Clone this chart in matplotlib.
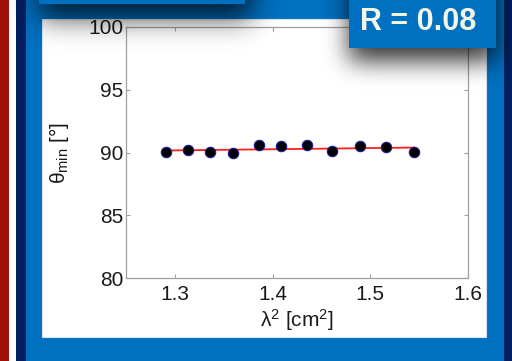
import numpy as np
import matplotlib
matplotlib.use("Agg")
import matplotlib.pyplot as plt
from matplotlib.patches import Rectangle

# ---- data ----
lambda_sq = [1.291, 1.313, 1.336, 1.360, 1.386, 1.409, 1.435, 1.461, 1.489, 1.516, 1.545]
theta_min = [90.05, 90.16, 90.05, 89.98, 90.56, 90.53, 90.59, 90.08, 90.51, 90.43, 90.05]
x_ticks = [1.3, 1.4, 1.5, 1.6]
y_ticks = [80, 85, 90, 95, 100]
r_label = "R = 0.08"

plt.rcParams['font.family'] = ['Liberation Sans', 'DejaVu Sans']
plt.rcParams['mathtext.fontset'] = 'custom'
plt.rcParams['mathtext.rm'] = 'Liberation Sans'
plt.rcParams['mathtext.it'] = 'Liberation Sans'
plt.rcParams['mathtext.default'] = 'regular'

W, H = 512, 361
BLUE = (0/255, 112/255, 192/255)
NAVY = (0/255, 32/255, 96/255)
RED = (160/255, 16/255, 10/255)

fig = plt.figure(figsize=(W/100, H/100), dpi=100)

# background layer
bg = fig.add_axes([0, 0, 1, 1])
bg.set_xlim(0, W); bg.set_ylim(H, 0); bg.axis('off')
bg.add_patch(Rectangle((0, 0), W, H, color=BLUE, lw=0))
bg.add_patch(Rectangle((0, 0), 9, H, color=RED, lw=0))
bg.add_patch(Rectangle((9, 0), 7, H, color='white', lw=0))
bg.add_patch(Rectangle((16, 0), 10, H, color=NAVY, lw=0))
bg.add_patch(Rectangle((504, 0), 8, H, color=NAVY, lw=0))
bg.add_patch(Rectangle((42, 19), 444, 318, facecolor='white', edgecolor='#d8e4f0', lw=0.8))

# data axes
ax = fig.add_axes([126/W, (H-278)/H, 342/W, 251/H])
ax.patch.set_alpha(0)
ax.set_xlim(1.25, 1.6)
ax.set_ylim(80, 100)
ax.set_xticks(x_ticks)
ax.set_yticks(y_ticks)
ax.set_xticklabels([f"{t:.1f}" for t in x_ticks])
ax.set_yticklabels([str(t) for t in y_ticks])
for s in ax.spines.values():
    s.set_color('#a0a0a0'); s.set_linewidth(0.9)
ax.tick_params(direction='in', length=3, width=0.8, color='#a0a0a0',
               top=True, right=True, labelsize=15, labelcolor='#1a1a1a')
ax.tick_params(axis='x', pad=5)
ax.tick_params(axis='y', pad=2)

coef = np.polyfit(lambda_sq, theta_min, 1)
xs = np.array([min(lambda_sq), max(lambda_sq)])
ax.plot(xs, np.polyval(coef, xs), color='#ff2020', lw=1.3, zorder=2)
ax.plot(lambda_sq, theta_min, 'o', ms=7.5, mfc='black', mec='#1a1a9a', mew=0.8, zorder=3)

ax.set_xlabel(r'$\lambda^2$ [cm$^2$]', fontsize=15, color='#1a1a1a', labelpad=2)
ax.set_ylabel(r'$\theta_{min}$ [°]', fontsize=15, color='#1a1a1a', labelpad=12)

# overlay layer: shadows + boxes
ov = fig.add_axes([0, 0, 1, 1])
ov.set_xlim(0, W); ov.set_ylim(H, 0); ov.axis('off'); ov.patch.set_alpha(0)

def blur(img, sigma):
    r = int(3*sigma)
    k = np.exp(-0.5*(np.arange(-r, r+1)/sigma)**2); k /= k.sum()
    pad = np.pad(img, r, mode='edge')
    out = np.apply_along_axis(lambda v: np.convolve(v, k, mode='valid'), 0, pad)
    out = np.apply_along_axis(lambda v: np.convolve(v, k, mode='valid'), 1, out)
    return out

yy, xx = np.mgrid[0:H, 0:W]
m1 = ((xx >= 39) & (xx <= 245+6) & (yy <= 4+13)).astype(float)
m2 = ((xx >= 349) & (xx <= 496) & (yy <= 48+12)).astype(float)
a = np.clip(0.75*blur(m1, 14) + 0.8*blur(m2, 12), 0, 0.85)
rgba = np.zeros((H, W, 4)); rgba[..., 3] = a
ov.imshow(rgba, extent=(0, W, H, 0), interpolation='bilinear', zorder=1)

ov.add_patch(Rectangle((39, -5), 206, 9, color=BLUE, lw=0, zorder=2))
ov.add_patch(Rectangle((349, -5), 147, 53, color=BLUE, lw=0, zorder=2))
ov.text(418, 22, r_label, ha='center', va='center', fontsize=22,
        fontweight='bold', color='#f5f5e6', zorder=3)
ov.set_xlim(0, W); ov.set_ylim(H, 0)

fig.savefig('out.png', dpi=100)
